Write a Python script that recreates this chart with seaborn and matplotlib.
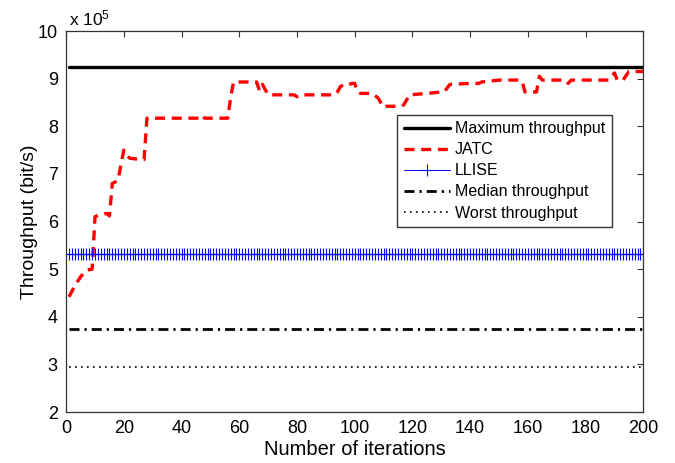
import numpy as np
import pandas as pd
import seaborn as sns
import matplotlib.pyplot as plt

# throughput values in units of 1e5 bit/s
iterations = np.arange(1, 201)
max_throughput = 9.24
llise_throughput = 5.32
median_throughput = 3.74
worst_throughput = 2.94

# JATC curve at the break points
jatc_iter = [1, 3, 5, 7, 9, 10, 11, 14, 15, 16, 17, 18, 19, 20, 21, 22, 26, 27,
             28, 46, 47, 48, 56, 57, 58, 66, 67, 68, 70, 79, 80, 81, 93, 94, 95,
             96, 97, 99, 100, 101, 102, 106, 108, 110, 111, 116, 117, 119, 125,
             130, 131, 133, 140, 143, 144, 150, 157, 158, 159, 163, 164, 165,
             173, 174, 175, 188, 190, 191, 193, 195, 200]
jatc_val = [4.42, 4.65, 4.84, 4.98, 5.00, 6.10, 6.13, 6.17, 6.12, 6.80, 6.83,
            6.87, 7.20, 7.50, 7.40, 7.33, 7.30, 7.30, 8.17, 8.17, 8.23, 8.17,
            8.17, 8.60, 8.93, 8.93, 8.75, 8.88, 8.66, 8.66, 8.62, 8.66, 8.66,
            8.72, 8.83, 8.87, 8.85, 8.90, 8.90, 8.72, 8.69, 8.69, 8.60, 8.40,
            8.42, 8.42, 8.45, 8.66, 8.69, 8.72, 8.72, 8.88, 8.90, 8.90, 8.93,
            8.97, 8.97, 8.95, 8.72, 8.72, 9.05, 8.97, 8.97, 8.90, 8.97, 8.97,
            9.12, 8.97, 8.97, 9.15, 9.15]

x_ticks = list(range(0, 201, 20))
y_ticks = list(range(2, 11))

sns.set_style('white')
plt.rcParams['font.family'] = ['Liberation Sans', 'DejaVu Sans']
plt.rcParams['mathtext.default'] = 'regular'
for k in ['text.color', 'axes.labelcolor', 'xtick.color', 'ytick.color']:
    plt.rcParams[k] = 'black'

fig = plt.figure(figsize=(6.75, 4.63), dpi=100)
ax = fig.add_axes([0.098, 0.110, 0.855, 0.823])

flat = pd.DataFrame({'it': iterations})
sns.lineplot(x=flat['it'], y=np.full(len(flat), max_throughput), ax=ax,
             color='black', linewidth=2.4, label='Maximum throughput')
sns.lineplot(x=jatc_iter, y=jatc_val, ax=ax, color='#ff0000', linewidth=2.4,
             linestyle=(0, (3.0, 2.0)), label='JATC')
sns.lineplot(x=flat['it'], y=np.full(len(flat), llise_throughput), ax=ax,
             color='#0000ff', linewidth=0.7, marker='+', markersize=9,
             markeredgecolor='#0000ff', markeredgewidth=0.8, label='LLISE')
sns.lineplot(x=flat['it'], y=np.full(len(flat), median_throughput), ax=ax,
             color='black', linewidth=2.0, linestyle=(0, (3.6, 1.8, 0.8, 1.8)),
             label='Median throughput')
sns.lineplot(x=flat['it'], y=np.full(len(flat), worst_throughput), ax=ax,
             color='black', linewidth=1.2, linestyle=(0, (1, 2.6)),
             label='Worst throughput')

ax.set_xlim(0, 200)
ax.set_ylim(2, 10)
ax.set_xticks(x_ticks)
ax.set_yticks(y_ticks)
ax.tick_params(axis='both', which='major', labelsize=13, direction='in',
               length=4, width=0.8, top=True, right=True, pad=6,
               color='#333333', labelcolor='black')
for s in ax.spines.values():
    s.set_color('#333333')
    s.set_linewidth(0.9)

ax.set_xlabel('Number of iterations', fontsize=14.5, labelpad=2)
ax.set_ylabel('Throughput (bit/s)', fontsize=14, labelpad=0)
ax.text(0.005, 1.008, r'x 10$^5$', transform=ax.transAxes, fontsize=12.5,
        ha='left', va='bottom')

ax.legend(loc='upper left', bbox_to_anchor=(0.574, 0.78), fontsize=11.5,
          frameon=True, fancybox=False, edgecolor='#333333', framealpha=1,
          handlelength=2.9, labelspacing=0.38, borderpad=0.4,
          handletextpad=0.3, borderaxespad=0)

plt.savefig('out.png', dpi=100)
